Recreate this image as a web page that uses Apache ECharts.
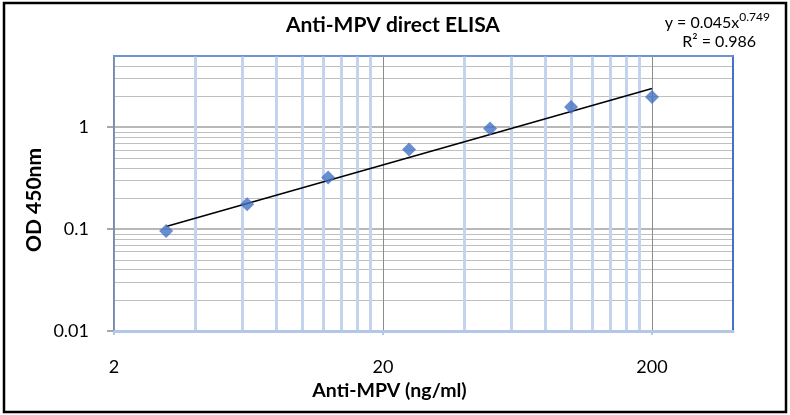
<!DOCTYPE html>
<html>
<head>
<meta charset="utf-8">
<script src="https://cdn.jsdelivr.net/npm/echarts@6/dist/echarts.min.js"></script>
<style>html,body{margin:0;padding:0;background:#fff}#c{width:790px;height:415px}</style>
</head>
<body>
<div id="c"></div>
<script>
// ---- data (raw values) ----
const concentration = [3.125, 6.25, 12.5, 25, 50, 100, 200];
const od450 = [0.096, 0.175, 0.321, 0.604, 0.971, 1.58, 1.98];
const trendX = [3.125, 200];
const trendY = [0.106, 2.40];
const xRange = [2, 400];
const yRange = [0.01, 5];
const xTickValues = [2, 20, 200];
const xMinorValues = [4, 6, 8, 10, 12, 14, 16, 18, 40, 60, 80, 100, 120, 140, 160, 180];
const yTickValues = [0.01, 0.1, 1];
const yMinorValues = [0.02, 0.03, 0.04, 0.05, 0.06, 0.07, 0.08, 0.09,
                      0.2, 0.3, 0.4, 0.5, 0.6, 0.7, 0.8, 0.9, 2, 3, 4];

const lg = v => Math.log10(v);
const fmt = v => String(+Math.pow(10, v).toPrecision(3));
const FONT = 'Lato, "Liberation Sans", sans-serif';

const chart = echarts.init(document.getElementById('c'), null, {renderer: 'canvas'});

chart.setOption({
  animation: false,
  backgroundColor: '#fff',
  title: {
    text: 'Anti-MPV direct ELISA', left: 281, top: 10,
    textStyle: {fontFamily: FONT, fontWeight: 'bold', fontSize: 21, color: '#000'}
  },
  grid: {left: 114, top: 56, right: 57, bottom: 84, show: true,
    borderColor: '#4472C4', borderWidth: 2, backgroundColor: '#fff'},
  graphic: [
    {type: 'rect', shape: {x: 4, y: 3, width: 782, height: 409},
     style: {fill: null, stroke: '#000', lineWidth: 2.5}, silent: true, z: 100},
    {type: 'text', right: 20, top: 11,
     style: {text: '{m|y = 0.045x}{s|0.749}', rich: {
       m: {fontFamily: FONT, fontSize: 16, fill: '#000', verticalAlign: 'bottom'},
       s: {fontFamily: FONT, fontSize: 12, fill: '#000', verticalAlign: 'top', padding: [0, 0, 8, 0]}
     }}},
    {type: 'text', right: 34, top: 34,
     style: {text: 'R² = 0.986', fontFamily: FONT, fontSize: 16, fill: '#000'}},
    {type: 'text', x: 34, y: 200, rotation: Math.PI / 2,
     style: {text: 'OD 450nm', fontFamily: FONT, fontWeight: 'bold', fontSize: 21, fill: '#000',
       align: 'center', verticalAlign: 'middle'}}
  ],
  xAxis: [
    {
      type: 'value', min: lg(xRange[0]), max: lg(xRange[1]),
      name: 'Anti-MPV (ng/ml)', nameLocation: 'middle', nameGap: 46,
      nameTextStyle: {fontFamily: FONT, fontWeight: 'bold', fontSize: 19.5, color: '#000',
        padding: [0, 68, 0, 0]},
      axisLine: {show: true, onZero: false, lineStyle: {color: '#b4c7e7', width: 3}},
      axisTick: {show: true, length: 4, customValues: xTickValues.map(lg),
        lineStyle: {color: '#b4c7e7', width: 2}},
      axisLabel: {customValues: xTickValues.map(lg), formatter: fmt, margin: 27,
        fontFamily: FONT, fontSize: 18, color: '#000'},
      splitLine: {show: true, lineStyle: {color: '#8c8c8c', width: 1}}
    },
    {
      type: 'value', min: lg(xRange[0]), max: lg(xRange[1]), position: 'top',
      axisLine: {show: true, onZero: false, lineStyle: {color: '#7f9fd6', width: 1.5}},
      axisLabel: {show: false},
      axisTick: {show: false, customValues: xMinorValues.map(lg)},
      splitLine: {show: true, lineStyle: {color: '#c5d4ee', width: 3}}
    }
  ],
  yAxis: [
    {
      type: 'value', min: lg(yRange[0]), max: lg(yRange[1]),
      axisLine: {show: true, onZero: false, lineStyle: {color: '#8497b0', width: 1.5}},
      axisTick: {show: true, length: 7, customValues: yTickValues.map(lg),
        lineStyle: {color: '#8c8c8c', width: 1.5}},
      axisLabel: {customValues: yTickValues.map(lg), formatter: fmt, margin: 25,
        fontFamily: FONT, fontSize: 18, color: '#000'},
      splitLine: {show: true, lineStyle: {color: '#a0a0a0', width: 1.5}}
    },
    {
      type: 'value', min: lg(yRange[0]), max: lg(yRange[1]), position: 'right',
      axisLine: {show: true, onZero: false, lineStyle: {color: '#4472C4', width: 2}},
      axisLabel: {show: false},
      axisTick: {show: false, customValues: yMinorValues.map(lg)},
      splitLine: {show: true, lineStyle: {color: '#bfbfbf', width: 1.2}}
    }
  ],
  series: [
    {
      type: 'line', xAxisIndex: 0, yAxisIndex: 0, symbol: 'none',
      data: trendX.map((x, i) => [lg(x), lg(trendY[i])]),
      lineStyle: {color: '#000', width: 1.5}, z: 3
    },
    {
      type: 'scatter', xAxisIndex: 0, yAxisIndex: 0, symbol: 'diamond', symbolSize: 14,
      data: concentration.map((x, i) => [lg(x), lg(od450[i])]),
      itemStyle: {color: '#4472C4'}, z: 4
    }
  ]
});
</script>
</body>
</html>
